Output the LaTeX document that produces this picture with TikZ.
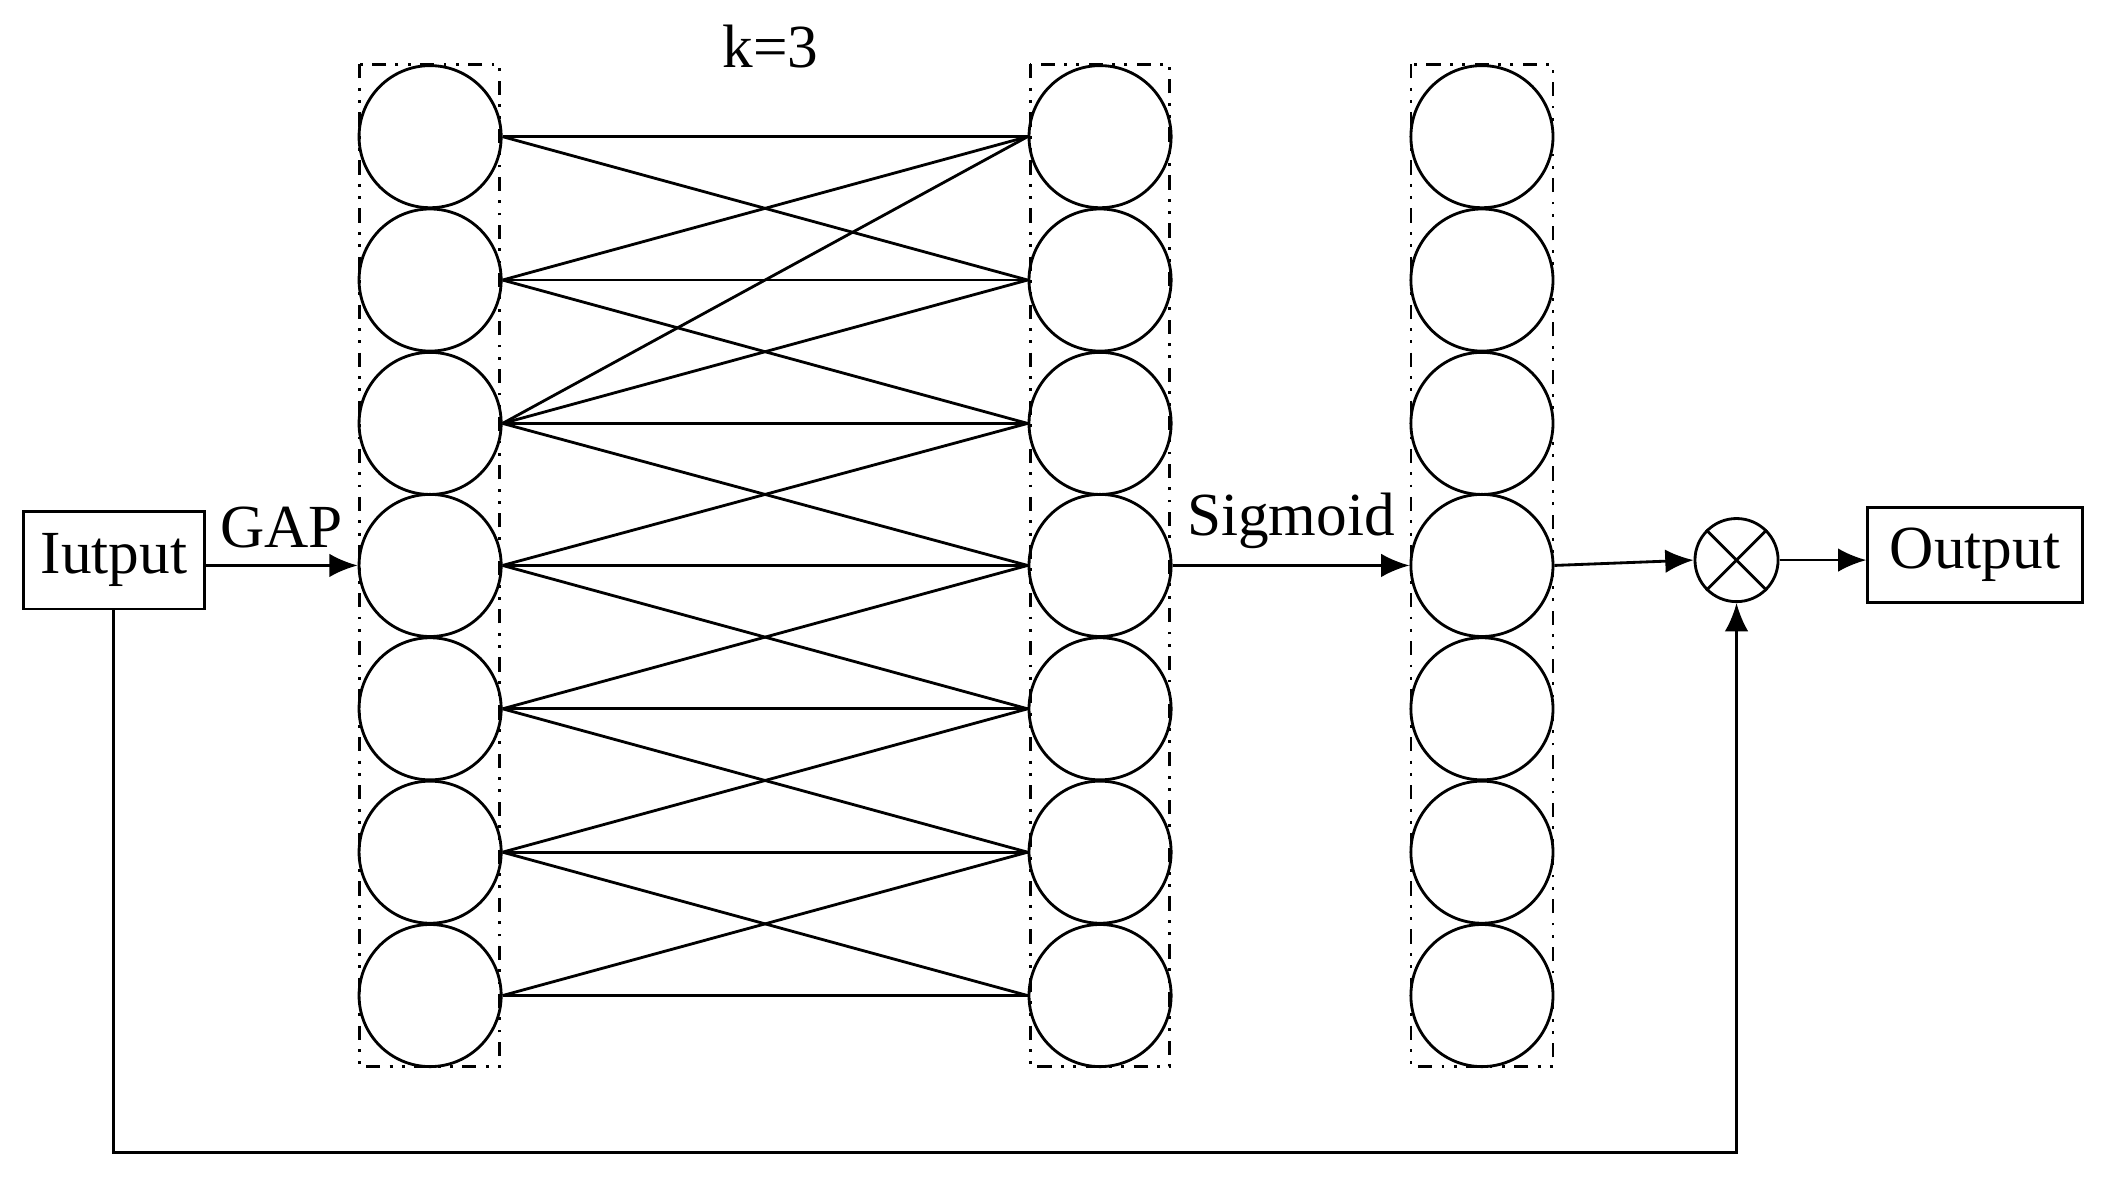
\documentclass[tikz,border=0pt]{standalone}
\usepackage{fontspec}
\setmainfont{Liberation Serif}
\usetikzlibrary{arrows.meta}
\begin{document}
\begin{tikzpicture}[x=0.01cm,y=-0.01cm,
  neu/.style={circle,draw,line width=0.6pt,minimum size=1.06cm,inner sep=0pt},
  col/.style={draw,line width=0.6pt,dash dot dot},
  box/.style={draw,line width=0.6pt,inner sep=0pt,font=\fontsize{13pt}{15pt}\selectfont},
  lbl/.style={font=\fontsize{13pt}{15pt}\selectfont},
  arr/.style={-{Latex[length=6pt,width=5pt]},line width=0.6pt},
  ln/.style={line width=0.6pt}]
\useasboundingbox (0,0) rectangle (1568,882);
\draw[col] (268,48) rectangle (373,796);
\draw[col] (769,48) rectangle (873,796);
\draw[col] (1053,48) rectangle (1159,796);
\foreach \i/\y in {1/102,2/209,3/316,4/422,5/529,6/636,7/743}{
  \node[neu] (a\i) at (321,\y) {};
  \node[neu] (b\i) at (821,\y) {};
  \node[neu] (c\i) at (1106,\y) {};
}
\foreach \i in {1,...,7}{\draw[ln] (a\i.east) -- (b\i.west);}
\foreach \i/\j in {1/2,2/3,3/4,4/5,5/6,6/7}{
  \draw[ln] (a\i.east) -- (b\j.west);
  \draw[ln] (a\j.east) -- (b\i.west);
}
\draw[ln] (a3.east) -- (b1.west);
\node[lbl] (k) at (575,35) {k=3};
\node[box,minimum width=1.35cm,minimum height=0.73cm] (in) at (85,418) {Iutput};
\node[box,minimum width=1.6cm,minimum height=0.71cm] (out) at (1474,414) {Output};
\node[circle,draw,line width=0.6pt,minimum size=0.62cm,inner sep=0pt] (m) at (1296,418) {};
\draw[ln] (m.north west) -- (m.south east) (m.north east) -- (m.south west);
\draw[arr] (in.east|-a4) -- node[lbl,above,pos=0.5] {GAP} (a4.west);
\draw[arr] (b4.east) -- node[lbl,above,pos=0.5] {Sigmoid} (c4.west);
\draw[arr] (c4.east) -- (m.west);
\draw[arr] (m.east) -- (out.west|-m);
\coordinate (d1) at (85,860);
\coordinate (d2) at (1296,860);
\draw[arr] (in.south) -- (d1) -- (d2) -- (m.south);
\end{tikzpicture}
\end{document}
